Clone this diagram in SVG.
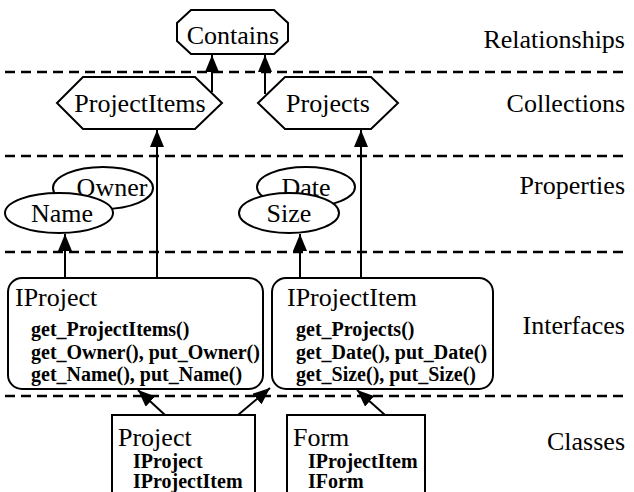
<svg xmlns="http://www.w3.org/2000/svg" width="634" height="492" viewBox="0 0 634 492">
<style>
.bg{fill:#fff}
.sh{fill:#fff;stroke:#000;stroke-width:2}
.dash{stroke:#000;stroke-width:2.5;stroke-dasharray:10 6;fill:none}
.con{stroke:#000;stroke-width:2;fill:none;marker-end:url(#ah)}
.t{font-family:"Liberation Serif","Times New Roman",serif;fill:#000}
.big{font-size:26px}
.lab{font-size:26px;text-anchor:end}
.m{font-size:20px;font-weight:bold}
.c{text-anchor:middle}
</style>
<defs>
<marker id="ah" viewBox="0 0 17 14" refX="17" refY="7" markerWidth="17" markerHeight="14" orient="auto" markerUnits="userSpaceOnUse">
<path d="M0,0 L17,7 L0,14 z" fill="#000"/>
</marker>
</defs>
<rect class="bg" x="0" y="0" width="634" height="492"/>
<g id="separators">
<line class="dash" x1="5" y1="72" x2="628" y2="72"/>
<line class="dash" x1="5" y1="156" x2="628" y2="156"/>
<line class="dash" x1="5" y1="252" x2="628" y2="252"/>
<line class="dash" x1="5" y1="396" x2="628" y2="396"/>
</g>
<g id="layer-labels" class="t lab">
<text x="625" y="48">Relationships</text>
<text x="625" y="112">Collections</text>
<text x="625" y="194">Properties</text>
<text x="625" y="334">Interfaces</text>
<text x="625" y="450">Classes</text>
</g>
<g id="contains">
<polygon class="sh" points="191,10 274,10 288,23 288,41 274,54 191,54 177,41 177,23"/>
<text class="t big c" x="233" y="44">Contains</text>
</g>
<g id="projectitems">
<polygon class="sh" points="57,103 83,77 195,77 222,103 195,129 83,129"/>
<text class="t big c" x="140" y="112">ProjectItems</text>
</g>
<g id="projects">
<polygon class="sh" points="258,103 285,77 371,77 398,103 371,129 285,129"/>
<text class="t big c" x="328" y="112">Projects</text>
</g>
<g id="owner">
<ellipse class="sh" cx="103" cy="188" rx="50" ry="21"/>
<text class="t big c" x="112" y="196">Owner</text>
</g>
<g id="name">
<ellipse class="sh" cx="59" cy="213" rx="54" ry="20"/>
<text class="t big c" x="62" y="222">Name</text>
</g>
<g id="date">
<ellipse class="sh" cx="306" cy="187" rx="49" ry="20"/>
<text class="t big c" x="306" y="196">Date</text>
</g>
<g id="size">
<ellipse class="sh" cx="289" cy="213" rx="50" ry="20"/>
<text class="t big c" x="289" y="222">Size</text>
</g>
<g id="iproject">
<rect class="sh" x="8" y="278" width="255" height="111" rx="14"/>
<text class="t big" x="15" y="306">IProject</text>
<text class="t m" x="31" y="336">get_ProjectItems()</text>
<text class="t m" x="31" y="359">get_Owner(), put_Owner()</text>
<text class="t m" x="31" y="381">get_Name(), put_Name()</text>
</g>
<g id="iprojectitem">
<rect class="sh" x="272" y="278" width="221" height="111" rx="14"/>
<text class="t big" x="287" y="306">IProjectItem</text>
<text class="t m" x="296" y="336">get_Projects()</text>
<text class="t m" x="296" y="359">get_Date(), put_Date()</text>
<text class="t m" x="296" y="381">get_Size(), put_Size()</text>
</g>
<g id="project">
<rect class="sh" x="112" y="415" width="143" height="90"/>
<text class="t big" x="118" y="446">Project</text>
<text class="t m" x="133" y="468">IProject</text>
<text class="t m" x="133" y="488">IProjectItem</text>
</g>
<g id="form">
<rect class="sh" x="287" y="415" width="138" height="90"/>
<text class="t big" x="293" y="446">Form</text>
<text class="t m" x="308" y="468">IProjectItem</text>
<text class="t m" x="308" y="488">IForm</text>
</g>
<g id="connectors">
<line class="con" x1="212" y1="92" x2="212" y2="55"/>
<line class="con" x1="265" y1="94" x2="265" y2="55"/>
<line class="con" x1="157" y1="278" x2="157" y2="130"/>
<line class="con" x1="361" y1="278" x2="361" y2="130"/>
<line class="con" x1="65" y1="278" x2="65" y2="234"/>
<line class="con" x1="300" y1="278" x2="300" y2="234"/>
<line class="con" x1="165" y1="415" x2="138" y2="390"/>
<line class="con" x1="238" y1="415" x2="270" y2="388"/>
<line class="con" x1="385" y1="415" x2="357" y2="390"/>
</g>
</svg>
